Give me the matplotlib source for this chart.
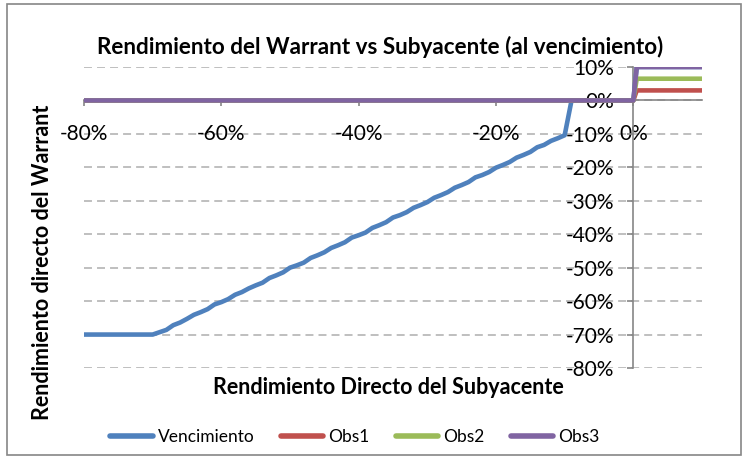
import matplotlib
matplotlib.use("Agg")
import matplotlib.pyplot as plt
from matplotlib.patches import Rectangle
from matplotlib.ticker import FuncFormatter, MultipleLocator

plt.rcParams['font.family'] = ['Lato', 'DejaVu Sans']

# ---- data (percent) ----
venc_x = ([-80, -79, -78, -77, -76, -75, -74, -73, -72, -71]
          + list(range(-70, 1)) + [0.5] + list(range(1, 11)))
venc_y = [-70, -70, -70, -70, -70, -70, -70, -70, -70, -70,
          -70.0, -69.3, -68.6, -67.2, -66.4, -65.3, -64.1, -63.3, -62.4, -61.0,
          -60.3, -59.4, -58.1, -57.3, -56.2, -55.3, -54.5, -53.1, -52.3, -51.4,
          -50.0, -49.3, -48.5, -47.1, -46.3, -45.4, -44.1, -43.3, -42.4, -41.0,
          -40.3, -39.5, -38.1, -37.3, -36.4, -35.0, -34.3, -33.4, -32.1, -31.3,
          -30.4, -29.1, -28.3, -27.4, -26.1, -25.3, -24.4, -23.0, -22.3, -21.4,
          -20.1, -19.3, -18.4, -17.1, -16.3, -15.4, -14.0, -13.3, -12.1, -11.3,
          -10.4, 0, 0, 0, 0, 0, 0, 0, 0, 0,
          0,
          10,
          10, 10, 10, 10, 10, 10, 10, 10, 10, 10]
obs_x = [-80, 0, 0.5, 10]
obs1_y = [0, 0, 3, 3]
obs2_y = [0, 0, 6.5, 6.5]
obs3_y = [0, 0, 10, 10]

series = [("Vencimiento", venc_x, venc_y, "#4F81BD"),
          ("Obs1", obs_x, obs1_y, "#C0504D"),
          ("Obs2", obs_x, obs2_y, "#9BBB59"),
          ("Obs3", obs_x, obs3_y, "#8064A2")]

title = "Rendimiento del Warrant vs Subyacente (al vencimiento)"
xlabel = "Rendimiento Directo del Subyacente"
ylabel = "Rendimiento directo del Warrant"

W, H = 743, 458
fig = plt.figure(figsize=(W / 100, H / 100), dpi=100)
fig.patches.append(Rectangle((7 / W, 3 / H), 734 / W, 451 / H, transform=fig.transFigure,
                             fill=False, edgecolor="#868686", linewidth=1.2))

ax = fig.add_axes([84 / W, (H - 368) / H, (702 - 84) / W, (368 - 67) / H])
ax.set_xlim(-80, 10)
ax.set_ylim(-80, 10)

# gridlines
for yv in range(-80, 11, 10):
    ax.axhline(yv, color="#BFBFBF", linewidth=1.4, linestyle=(0, (4.1, 2.6)), zorder=1)

for name, xs, ys, col in series:
    ax.plot(xs, ys, color=col, linewidth=3.3, label=name, zorder=3,
            solid_joinstyle="round", solid_capstyle="butt")

for s in ["top", "right"]:
    ax.spines[s].set_visible(False)
ax.spines["left"].set_position(("data", 0))
ax.spines["bottom"].set_position(("data", 0))
for s in ["left", "bottom"]:
    ax.spines[s].set_color("#868686")
    ax.spines[s].set_linewidth(1.2)
    ax.spines[s].set_zorder(2)

pct = FuncFormatter(lambda v, p: f"{v:.0f}%".replace("-0%", "0%"))
ax.xaxis.set_major_locator(MultipleLocator(20))
ax.yaxis.set_major_locator(MultipleLocator(10))
ax.xaxis.set_major_formatter(pct)
ax.yaxis.set_major_formatter(pct)
ax.tick_params(axis="both", direction="out", length=4, width=1.2, color="#868686",
               labelsize=15, labelcolor="#000000")
ax.tick_params(axis="x", pad=13)
ax.tick_params(axis="y", pad=10)
ax.set_xticks([-80, -60, -40, -20, 0])

fig.text(380 / W, 1 - 47 / H, title, ha="center", va="center", fontsize=16.2, fontweight="bold")
fig.text(388 / W, 1 - 387 / H, xlabel, ha="center", va="center", fontsize=15.5, fontweight="bold")
fig.text(43 / W, 1 - 262 / H, ylabel, ha="center", va="center", rotation=90,
         fontsize=15.5, fontweight="bold")

leg = fig.legend(loc="center", bbox_to_anchor=(355 / W, 1 - 437 / H), ncol=4, frameon=False,
                 fontsize=12.5, handlelength=2.45, handletextpad=0.3, columnspacing=1.5,
                 borderpad=0, borderaxespad=0)
for l in leg.get_lines():
    l.set_linewidth(4)
    l.set_solid_capstyle("round")

fig.savefig("out.png", dpi=100)
